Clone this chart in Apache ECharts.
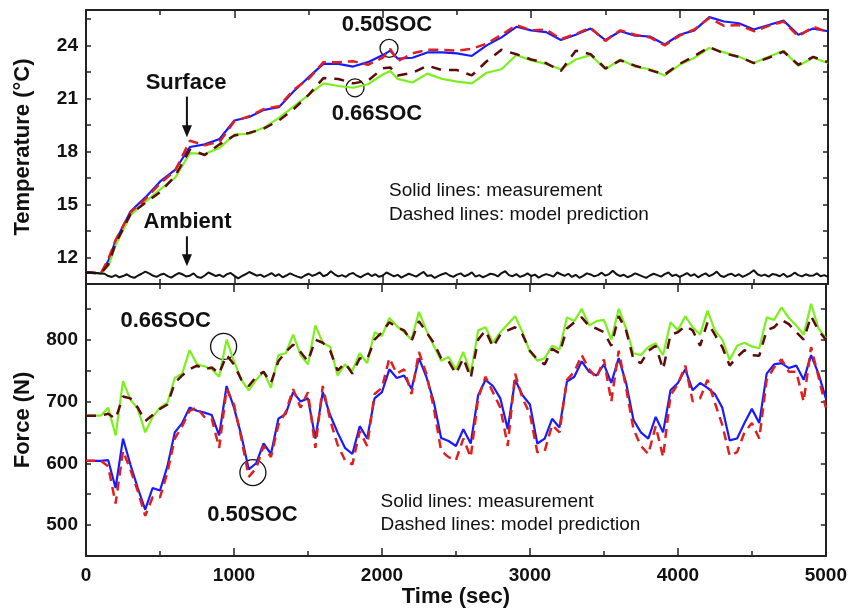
<!DOCTYPE html>
<html>
<head>
<meta charset="utf-8">
<script src="https://cdn.jsdelivr.net/npm/echarts@6/dist/echarts.min.js"></script>
<style>html,body{margin:0;padding:0;background:#fff}#main{width:850px;height:609px}</style>
</head>
<body>
<div id="main"></div>
<script>
// 温度 (上图) 采样时间
var tTemp = [0,100,150,200,300,400,500,600,700,800,900,1000,1100,1200,1300,1400,1500,1600,1700,1800,1900,2000,2050,
  2100,2200,2300,2400,2500,2600,2700,2800,2900,3000,3100,3200,3300,3400,3500,3600,3700,3800,3900,4000,
  4100,4200,4300,4400,4500,4600,4700,4800,4900,5000];
// 0.50SOC 表面温度 实测 / 模型
var temp50 = [11.15,11.1,11.8,12.95,14.6,15.4,16.3,16.95,18.25,18.4,18.7,19.75,19.95,20.35,20.5,21.4,22.2,22.95,22.95,22.8,23.05,23.45,23.7,
  23.25,23.3,23.6,23.6,23.55,23.4,24.0,24.45,25.05,24.85,24.75,24.3,24.6,24.95,24.3,24.8,24.55,24.5,24.05,24.6,
  24.85,25.6,25.35,25.25,24.9,25.15,25.4,24.6,24.95,24.8];
var temp50Model = [11.15,11.1,11.9,13.0,14.55,15.3,16.2,16.9,18.6,18.35,18.55,19.7,20.0,20.4,20.55,21.5,22.1,23.05,23.05,23.1,22.9,23.3,23.8,
  23.1,23.55,23.75,23.75,23.7,23.8,24.1,24.6,25.15,24.85,24.9,24.35,24.65,25.0,24.25,24.85,24.6,24.45,24.0,24.55,
  24.9,25.55,25.1,25.15,24.8,25.1,25.35,24.5,25.05,24.75];
// 0.66SOC 表面温度 实测 / 模型
var temp66 = [11.15,11.1,11.5,12.7,14.4,15.15,15.85,16.5,17.9,17.85,18.2,18.95,19.0,19.35,19.9,20.55,21.2,21.85,21.7,21.6,21.8,22.35,22.55,
  22.1,21.9,22.4,22.1,21.95,21.85,22.45,22.65,23.45,23.15,22.95,22.65,23.2,23.45,22.65,23.2,22.8,22.65,22.3,22.9,
  23.3,23.85,23.6,23.35,23.0,23.35,23.7,22.85,23.3,23.0];
var temp66Model = [11.15,11.1,11.6,12.8,14.45,15.1,15.7,16.6,18.1,17.8,18.4,18.9,19.05,19.3,19.75,20.4,21.2,22.15,22.1,21.85,22.0,22.7,22.75,
  22.3,22.45,22.85,22.6,22.6,22.3,23.1,23.75,23.5,23.2,23.0,22.55,23.7,23.5,22.7,23.15,22.85,22.6,22.35,22.95,
  23.4,23.9,23.55,23.35,23.0,23.3,23.65,22.9,23.35,23.05];

// 环境温度, 每25秒
var ambient = [11.15,11.15,11.13,11.12,11.1,11.08,
  10.95,10.9,11.0,10.88,10.95,11.05,10.92,10.85,10.97,11.08,
  11.2,11.1,10.98,10.9,11.02,11.08,10.95,10.86,11.0,11.12,
  11.05,10.93,10.97,11.1,10.9,10.85,10.98,11.15,11.05,10.95,
  11.02,10.9,11.06,11.12,10.96,10.82,10.95,11.05,11.18,11.08,
  10.97,11.03,10.9,11.0,11.12,10.95,11.05,10.88,10.98,11.1,
  11.0,10.92,10.85,10.98,11.08,10.96,11.04,11.15,10.94,11.02,
  11.22,11.05,10.93,11.0,10.9,11.06,11.12,10.97,10.88,11.0,
  11.1,10.95,11.05,10.9,10.98,11.15,11.04,10.93,11.02,10.86,
  10.97,11.08,11.0,10.92,11.06,11.18,10.95,11.0,10.84,10.96,
  11.05,11.12,10.98,10.9,11.03,11.1,10.94,11.02,11.16,10.92,
  11.0,10.88,10.97,11.08,11.04,10.93,11.12,11.22,11.0,10.94,
  11.06,10.9,10.98,11.1,10.95,11.03,10.86,10.97,11.06,11.0,
  10.92,11.15,11.05,10.96,11.08,10.9,11.02,10.85,10.96,11.1,
  11.04,10.93,11.0,11.14,10.97,11.06,11.25,11.05,10.95,11.02,
  10.88,10.97,11.1,11.02,10.93,10.85,10.98,11.08,11.0,10.92,
  11.06,11.15,10.95,11.03,10.9,11.0,11.12,10.96,11.05,10.88,
  11.0,11.1,10.94,11.04,11.2,10.97,10.9,11.02,11.08,10.95,
  11.05,10.9,11.0,11.12,11.28,11.05,10.96,11.03,10.92,11.06,
  11.02,10.94,11.08,10.9,10.98,11.14,11.0,10.93,11.05,10.97,
  10.98,11.1,10.94,11.0,10.9];
var tAmbient = ambient.map(function (_, i) { return i * 25; });

// 力 (下图), 每50秒
var tForce = [];
for (var k = 0; k <= 5000; k += 50) tForce.push(k);
var force66 = [677,677,677,690,645,733,703,688,650,675,690,698,738,745,783,760,757,752,740,800,
  765,735,718,735,748,722,775,778,808,775,760,823,795,788,742,760,750,778,762,812,
  806,835,822,812,800,845,815,790,766,772,752,780,745,815,820,795,812,825,838,812,
  780,766,770,790,784,836,830,850,823,830,832,800,850,818,778,775,788,794,775,828,
  815,838,820,808,847,815,800,767,790,795,789,786,836,832,852,835,823,808,858,818,802];
var force66Model = [677,677,677,680,672,708,705,690,668,678,688,695,730,742,752,758,752,755,745,775,
  760,735,725,740,748,730,765,780,792,780,765,800,795,782,750,762,745,770,768,800,
  812,828,820,815,798,830,812,795,770,765,745,770,738,800,815,788,808,815,820,808,
  782,768,760,785,778,818,828,836,822,818,812,790,838,815,768,762,782,790,752,808,
  812,822,815,790,828,808,788,758,772,783,775,774,815,820,832,825,812,800,838,815,800];
var force50 = [604,604,604,605,560,640,598,560,525,560,556,595,650,665,690,685,682,678,645,725,
  690,645,590,600,632,615,672,680,715,700,705,640,715,678,650,625,615,660,640,705,
  715,752,738,742,720,770,740,700,641,636,628,655,632,710,735,725,705,655,735,710,
  695,632,640,672,658,732,740,765,748,742,760,730,770,730,670,650,640,675,650,718,
  730,752,718,730,722,712,690,637,640,665,688,665,745,760,762,754,758,735,775,745,705];
var force50Model = [604,604,604,595,535,620,590,555,515,545,545,585,640,660,685,690,675,672,625,720,
  695,640,578,592,628,610,662,683,720,690,715,625,725,670,630,605,598,652,628,712,
  722,770,745,752,712,780,745,690,620,610,605,640,610,705,740,715,690,628,745,705,
  680,618,620,662,650,735,748,775,752,738,768,700,782,722,655,628,615,660,610,710,
  728,758,700,705,735,698,662,612,618,650,665,640,735,755,768,748,748,700,788,740,690];

function pairs(ts, vs) {
  return ts.map(function (t, i) { return [t, vs[i]]; });
}

var FONT = '"Liberation Sans", Arial, sans-serif';
var AX = '#222';

function xAxisCfg(grid, pos, showLabel) {
  return {
    type: 'value', gridIndex: grid, position: pos, min: 0, max: 5000, interval: 1000,
    axisLine: { show: true, onZero: false, lineStyle: { color: AX, width: 2 } },
    axisTick: { show: true, inside: true, length: 8, lineStyle: { color: AX, width: 1.5 } },
    minorTick: { show: true, splitNumber: 2, length: 5, lineStyle: { color: AX, width: 1.5 } },
    axisLabel: { show: showLabel, color: '#111', fontSize: 19, fontWeight: 'bold', fontFamily: FONT, margin: 10,
      formatter: function (v) { return String(v); } },
    splitLine: { show: false }
  };
}
function yAxisCfg(grid, pos, min, max, step, major, name) {
  return {
    type: 'value', gridIndex: grid, position: pos, min: min, max: max, interval: step,
    axisLine: { show: true, onZero: false, lineStyle: { color: AX, width: 2 } },
    axisTick: { show: true, inside: true, length: 5, lineStyle: { color: AX, width: 1.5 } },
    axisLabel: {
      show: pos === 'left', color: '#111', fontSize: 19, fontWeight: 'bold', fontFamily: FONT, margin: 8,
      formatter: function (v) { return Math.abs(v / major - Math.round(v / major)) < 1e-6 ? String(v) : ''; }
    },
    splitLine: { show: false },
    name: name || '', nameLocation: 'middle', nameRotate: 90, nameGap: 52,
    nameTextStyle: { color: '#111', fontSize: 22, fontWeight: 'bold', fontFamily: FONT }
  };
}

var chart = echarts.init(document.getElementById('main'));

var xs = [xAxisCfg(0, 'bottom', false), xAxisCfg(0, 'top', false), xAxisCfg(1, 'bottom', true), xAxisCfg(1, 'top', false)];
xs[2].name = 'Time (sec)';
xs[2].nameLocation = 'middle';
xs[2].nameGap = 30;
xs[2].nameTextStyle = { color: '#111', fontSize: 22, fontWeight: 'bold', fontFamily: FONT };

function line(name, xi, yi, data, color, dashed, width) {
  return {
    name: name, type: 'line', xAxisIndex: xi, yAxisIndex: yi, data: data,
    showSymbol: false, symbol: 'none', smooth: false,
    lineStyle: { color: color, width: width || 2.2, type: dashed ? dashed : 'solid' }
  };
}

var option = {
  animation: false,
  backgroundColor: '#fff',
  textStyle: { fontFamily: FONT },
  grid: [
    { left: 86, right: 22, top: 10, height: 274 },
    { left: 86, right: 22, top: 284, height: 274 }
  ],
  xAxis: xs,
  yAxis: [
    yAxisCfg(0, 'left', 10.5, 26, 1.5, 3, 'Temperature (°C)'),
    yAxisCfg(0, 'right', 10.5, 26, 1.5, 3),
    yAxisCfg(1, 'left', 450, 890, 50, 100, 'Force (N)'),
    yAxisCfg(1, 'right', 450, 890, 50, 100)
  ],
  series: [
    line('T 0.50SOC', 0, 0, pairs(tTemp, temp50), '#1a1aff'),
    line('T 0.66SOC', 0, 0, pairs(tTemp, temp66), '#7cf01e'),
    line('T 0.50SOC model', 0, 0, pairs(tTemp, temp50Model), '#e0201e', [10, 6], 2.5),
    line('T 0.66SOC model', 0, 0, pairs(tTemp, temp66Model), '#5c0a0a', [10, 8], 2.5),
    line('Ambient', 0, 0, pairs(tAmbient, ambient), '#111', null, 2),
    line('F 0.66SOC', 2, 2, pairs(tForce, force66), '#7cf01e'),
    line('F 0.66SOC model', 2, 2, pairs(tForce, force66Model), '#5c0a0a', [10, 8], 2.5),
    line('F 0.50SOC', 2, 2, pairs(tForce, force50), '#1a1aff'),
    line('F 0.50SOC model', 2, 2, pairs(tForce, force50Model), '#e0201e', [9, 6], 2.5)
  ]
};
chart.setOption(option);

// 标注 (数据坐标)
var labels = [
  { g: 0, t: 674, v: 21.85, text: 'Surface', bold: true },
  { g: 0, t: 684, v: 14.0, text: 'Ambient', bold: true },
  { g: 0, t: 2028, v: 25.15, text: '0.50SOC', bold: true },
  { g: 0, t: 1961, v: 20.1, text: '0.66SOC', bold: true },
  { g: 0, t: 2042, v: 15.76, text: 'Solid lines: measurement', left: true },
  { g: 0, t: 2042, v: 14.4, text: 'Dashed lines: model prediction', left: true },
  { g: 1, t: 539, v: 831, text: '0.66SOC', bold: true },
  { g: 1, t: 1125, v: 517, text: '0.50SOC', bold: true },
  { g: 1, t: 1990, v: 537, text: 'Solid lines: measurement', left: true },
  { g: 1, t: 1990, v: 500, text: 'Dashed lines: model prediction', left: true }
];
var circles = [
  { g: 0, t: 2042, v: 23.83, r: 9 },
  { g: 0, t: 1813, v: 21.6, r: 9 },
  { g: 1, t: 930, v: 789, r: 13 },
  { g: 1, t: 1128, v: 585, r: 13 }
];
var arrows = [
  { t: 680, v0: 21.1, v1: 18.8 },
  { t: 680, v0: 13.2, v1: 11.5 }
];

function px(g, t, v) {
  return chart.convertToPixel({ xAxisIndex: g * 2, yAxisIndex: g * 2 }, [t, v]);
}

var graphics = [];
labels.forEach(function (a) {
  var p = px(a.g, a.t, a.v);
  graphics.push({
    type: 'text', x: p[0], y: p[1], silent: true,
    style: {
      text: a.text, fill: '#111', fontFamily: FONT,
      fontSize: a.bold ? 22 : 19, fontWeight: a.bold ? 'bold' : 'normal',
      align: a.left ? 'left' : 'center', verticalAlign: 'middle'
    }
  });
});
circles.forEach(function (c) {
  var p = px(c.g, c.t, c.v);
  graphics.push({
    type: 'circle', shape: { cx: p[0], cy: p[1], r: c.r }, silent: true,
    style: { fill: 'none', stroke: '#111', lineWidth: 1.3 }
  });
});
arrows.forEach(function (a) {
  var p0 = px(0, a.t, a.v0), p1 = px(0, a.t, a.v1);
  graphics.push({
    type: 'line', silent: true,
    shape: { x1: p0[0], y1: p0[1], x2: p1[0], y2: p1[1] - 10 },
    style: { stroke: '#111', lineWidth: 2 }
  });
  graphics.push({
    type: 'polygon', silent: true,
    shape: { points: [[p1[0] - 5, p1[1] - 12], [p1[0] + 5, p1[1] - 12], [p1[0], p1[1]]] },
    style: { fill: '#111' }
  });
});
chart.setOption({ graphic: graphics });
</script>
</body>
</html>
